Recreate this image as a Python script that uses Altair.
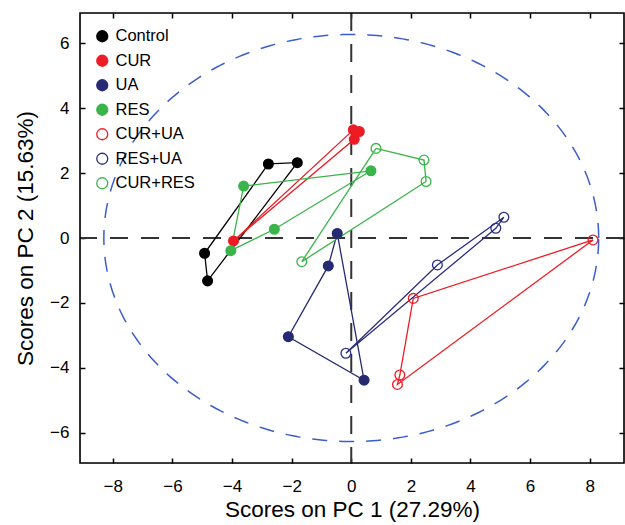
import altair as alt
import numpy as np
import pandas as pd

# ---------------- data ----------------
groups = ["Control", "CUR", "UA", "RES", "CUR+UA", "RES+UA", "CUR+RES"]
stroke_colors = ["#000000", "#ed1c24", "#262a73", "#39b54a", "#ed1c24", "#2b2f7f", "#39b54a"]
fill_colors = ["#000000", "#ed1c24", "#262a73", "#39b54a", "transparent", "transparent", "transparent"]

control_x = [-2.78, -1.81, -4.82, -4.92]
control_y = [2.28, 2.32, -1.32, -0.47]
cur_x = [-3.95, 0.07, 0.27, 0.10]
cur_y = [-0.09, 3.33, 3.28, 3.04]
ua_x = [-0.47, -0.77, -2.11, 0.43]
ua_y = [0.14, -0.86, -3.04, -4.38]
res_x = [-3.61, 0.66, -2.58, -4.04]
res_y = [1.60, 2.07, 0.27, -0.39]
curua_x = [8.11, 2.08, 1.63, 1.55]
curua_y = [-0.06, -1.86, -4.22, -4.51]
resua_x = [-0.18, 2.89, 5.12, 4.85]
resua_y = [-3.55, -0.83, 0.64, 0.30]
curres_x = [0.83, 2.44, 2.51, -1.66]
curres_y = [2.76, 2.40, 1.74, -0.73]

series_x = [control_x, cur_x, ua_x, res_x, curua_x, resua_x, curres_x]
series_y = [control_y, cur_y, ua_y, res_y, curua_y, resua_y, curres_y]

# confidence ellipse semi-axes (PC1, PC2)
ellipse_a = 8.3
ellipse_b = 6.27

x_ticks = [-8, -6, -4, -2, 0, 2, 4, 6, 8]
y_ticks = [-6, -4, -2, 0, 2, 4, 6]
x_domain = [-9.1, 9.15]
y_domain = [-6.93, 6.93]
x_title = "Scores on PC 1 (27.29%)"
y_title = "Scores on PC 2 (15.63%)"

# ---------------- tables ----------------
rows = []
for g, c, xs_, ys_ in zip(groups, stroke_colors, series_x, series_y):
    n = len(xs_)
    for i in range(n + 1):  # closed path
        j = i % n
        rows.append({"group": g, "line_color": c, "order": i, "x": xs_[j], "y": ys_[j], "pt": i < n})
df = pd.DataFrame(rows)
pts = df[df["pt"]].drop(columns=["pt"])

t = np.linspace(0, 2 * np.pi, 361)
ell = pd.DataFrame({"x": ellipse_a * np.cos(t), "y": ellipse_b * np.sin(t), "order": np.arange(len(t))})
zero = pd.DataFrame({"v": [0]})

FONT = "Liberation Sans"
W, H = 544, 450
xs = alt.Scale(domain=x_domain, nice=False, zero=False)
ys = alt.Scale(domain=y_domain, nice=False, zero=False)

axis_common = dict(domain=False, ticks=True, tickSize=5, offset=-5, tickColor="black",
                   tickWidth=1.5, grid=False, labelFont=FONT, labelFontSize=17,
                   labelColor="black", titleFont=FONT, titleFontSize=22.5,
                   titleFontWeight="normal", titleColor="black")

x_axis = alt.Axis(values=x_ticks, orient="bottom", labelPadding=15, titlePadding=4,
                  title=x_title, **axis_common)
y_axis = alt.Axis(values=y_ticks, orient="left", labelPadding=11, titlePadding=12,
                  title=y_title, **axis_common)
x_axis_top = alt.Axis(values=x_ticks, orient="top", labels=False, title=None,
                      domain=False, tickSize=5, offset=-5, tickColor="black", tickWidth=1.5, grid=False)
y_axis_right = alt.Axis(values=y_ticks, orient="right", labels=False, title=None,
                        domain=False, tickSize=5, offset=-5, tickColor="black", tickWidth=1.5, grid=False)

legend = alt.Legend(orient="none", legendX=14, legendY=15, title=None, padding=0,
                    labelFont=FONT, labelFontSize=16.5, labelColor="black", symbolSize=120,
                    symbolStrokeWidth=1.3, rowPadding=7.5, labelOffset=5, symbolType="circle")

ellipse = alt.Chart(ell).mark_line(color="#3a5fcd", strokeWidth=1.5, strokeDash=[15, 12]).encode(
    x=alt.X("x:Q", scale=xs, axis=x_axis),
    y=alt.Y("y:Q", scale=ys, axis=y_axis),
    order="order:Q",
)
frame_axes = alt.Chart(ell).mark_line(opacity=0).encode(
    x=alt.X("x:Q", scale=xs, axis=x_axis_top),
    y=alt.Y("y:Q", scale=ys, axis=y_axis_right),
    order="order:Q",
)
frame = alt.Chart(zero).mark_rect(fill=None, stroke="black", strokeWidth=1.6).encode(
    x=alt.value(0), x2=alt.value(W), y=alt.value(0), y2=alt.value(H)
)
vrule = alt.Chart(zero).mark_rule(color="#333333", strokeWidth=2, strokeDash=[18, 13]).encode(
    x=alt.X("v:Q", scale=xs, axis=None)
)
hrule = alt.Chart(zero).mark_rule(color="#333333", strokeWidth=2, strokeDash=[18, 13]).encode(
    y=alt.Y("v:Q", scale=ys, axis=None)
)
lines = alt.Chart(df).mark_line(strokeWidth=1.3).encode(
    x=alt.X("x:Q", scale=xs, axis=None),
    y=alt.Y("y:Q", scale=ys, axis=None),
    color=alt.Color("line_color:N", scale=None),
    detail="group:N",
    order="order:Q",
)
points = alt.Chart(pts).mark_point(shape="circle", size=95, strokeWidth=1.3, opacity=1).encode(
    x=alt.X("x:Q", scale=xs, axis=None),
    y=alt.Y("y:Q", scale=ys, axis=None),
    stroke=alt.Stroke("group:N", scale=alt.Scale(domain=groups, range=stroke_colors), legend=legend),
    fill=alt.Fill("group:N", scale=alt.Scale(domain=groups, range=fill_colors), legend=legend),
)

chart = (
    alt.layer(ellipse, frame_axes, vrule, hrule, lines, points, frame)
    .resolve_axis(x="independent", y="independent")
    .properties(
        width=W,
        height=H,
        padding={"left": 80, "top": 13, "right": 1, "bottom": 62},
        autosize=alt.AutoSizeParams(type="none"),
    )
    .configure_view(stroke=None)
    .configure(background="white")
)

chart.save("out.html", embed_options={"renderer": "svg", "actions": False})
